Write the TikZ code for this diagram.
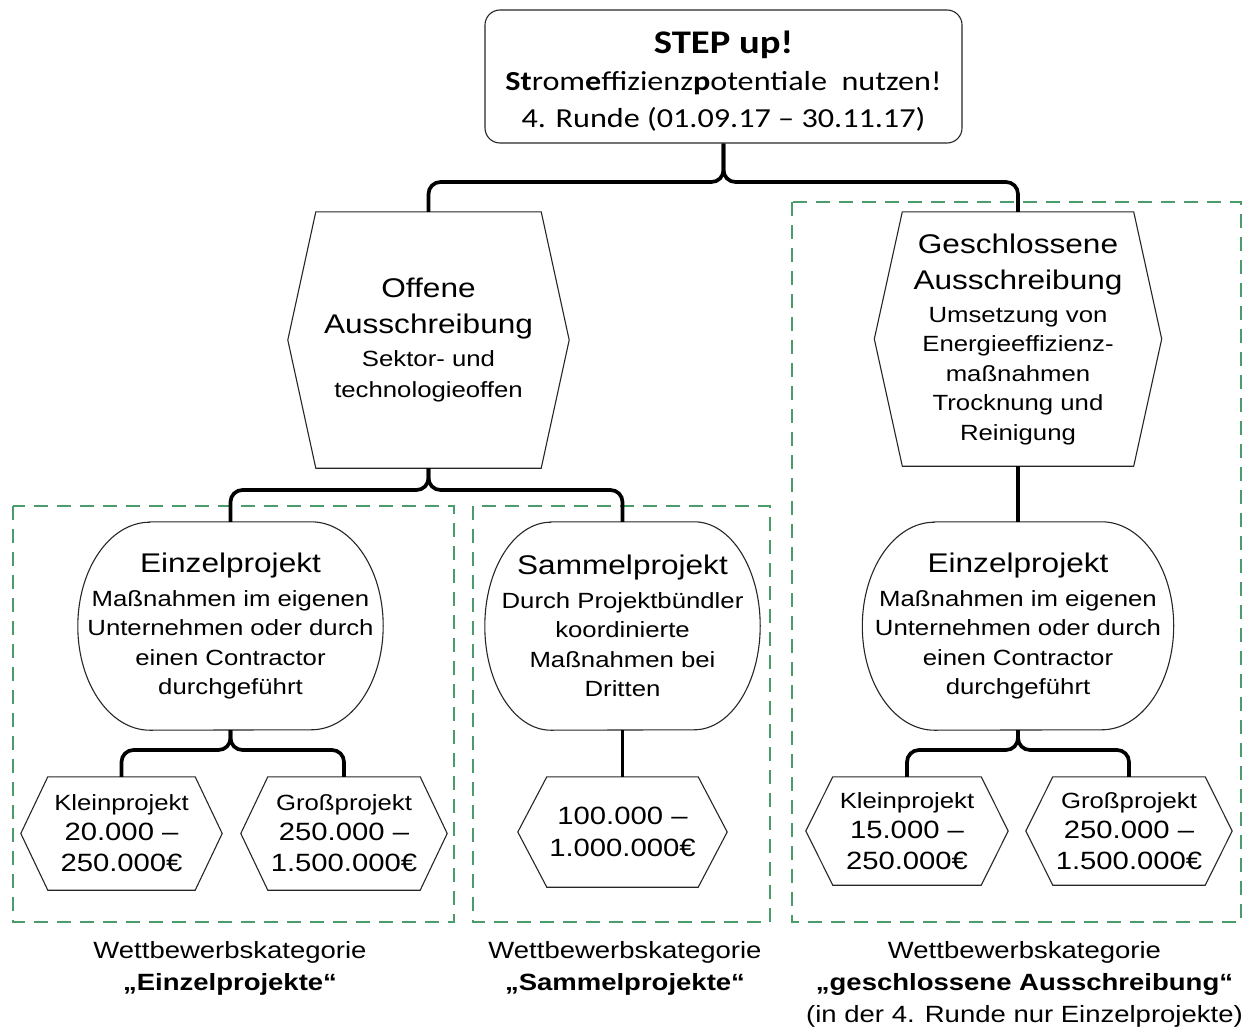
\documentclass[tikz,border=0pt]{standalone}
\usepackage{fontspec}
\setmainfont{Liberation Sans}[FakeStretch=1.17]
\newfontfamily\calibri{Carlito}[FakeStretch=1.17]

\definecolor{katgreen}{RGB}{74,156,106}
\newcommand{\headtxt}{\fontsize{27}{36}\selectfont}
\newcommand{\subtxt}{\fontsize{22}{29.5}\selectfont}
\newcommand{\sumtxt}{\fontsize{25}{31}\selectfont}
\newcommand{\hexframe}[2]{%
  \draw[outline] ([xshift=#2]#1.north west) -- ([xshift=-#2]#1.north east) -- (#1.east)
    -- ([xshift=-#2]#1.south east) -- ([xshift=#2]#1.south west) -- (#1.west) -- cycle;}
\newcommand{\capframe}[2]{%
  \draw[outline] ([xshift=#2]#1.north west) -- ([xshift=-#2]#1.north east)
    arc[start angle=90, end angle=-90, x radius=#2, y radius=104pt]
    -- ([xshift=#2]#1.south west)
    arc[start angle=270, end angle=90, x radius=#2, y radius=104pt] -- cycle;}

\tikzset{
  conn/.style={line width=3.7pt, rounded corners=12pt},
  outline/.style={draw=black!85, line width=1.1pt},
  hexnode/.style={align=center, inner sep=0pt, font=\subtxt},
  sumnode/.style={align=center, inner sep=0pt, font=\sumtxt},
  roundnode/.style={align=center, inner sep=0pt, font=\subtxt, minimum height=208pt},
  katbox/.style={draw=katgreen, line width=2pt, dash pattern=on 14pt off 9pt},
  katlabel/.style={align=center, font=\fontsize{23.5}{32}\selectfont},
}

\begin{document}
\begin{tikzpicture}[x=1pt, y=-1pt]
\useasboundingbox (0,0) rectangle (1258,1030);

\draw[katbox] (13,506) rectangle (454,922);
\draw[katbox] (473,506) rectangle (770,922);
\draw[katbox] (792,202) rectangle (1241,922);

\node[outline, rounded corners=15pt, minimum width=477pt, minimum height=133pt,
      align=center, inner sep=0pt, font=\calibri\fontsize{27.5}{37}\selectfont] (step) at (723.5,76.5)
     {\rule{0pt}{31pt}\bfseries\fontsize{33}{38}\selectfont STEP up!\\[0pt]
      \textbf{St}rom\textbf{e}ffizienz\textbf{p}otentiale\ \ nutzen!\\
      4. Runde (01.09.17 – 30.11.17)};

\node[hexnode, minimum width=281pt, minimum height=256pt] (offen) at (428.5,340)
     {\headtxt Offene\\[6.5pt]\headtxt Ausschreibung\\[3.5pt]Sektor- und\\[1.5pt]technologieoffen};
\hexframe{offen}{28pt}
\node[hexnode, minimum width=287pt, minimum height=254pt] (geschl) at (1018,339)
     {\headtxt Geschlossene\\[6.5pt]\headtxt Ausschreibung\\[3.5pt]Umsetzung von\\Energieeffizienz-\\
      maßnahmen\\Trocknung und\\Reinigung};
\hexframe{geschl}{28pt}

\node[roundnode, minimum width=305pt] (einzelL) at (230.5,626)
     {\headtxt Einzelprojekt\\[4.5pt]Maßnahmen im eigenen\\Unternehmen oder durch\\
      einen Contractor\\durchgeführt};
\capframe{einzelL}{72pt}
\node[roundnode, minimum width=275pt] (sammel) at (622.5,626)
     {\headtxt Sammelprojekt\\[4.5pt]Durch Projektbündler\\koordinierte\\
      Maßnahmen bei\\Dritten};
\capframe{sammel}{66pt}
\node[roundnode, minimum width=311pt] (einzelR) at (1018,626)
     {\headtxt Einzelprojekt\\[4.5pt]Maßnahmen im eigenen\\Unternehmen oder durch\\
      einen Contractor\\durchgeführt};
\capframe{einzelR}{72pt}

\node[sumnode, minimum width=201pt, minimum height=113pt] (kleinL) at (121.5,833.5)
     {\subtxt Kleinprojekt\\[-1pt]20.000 –\\250.000€};
\hexframe{kleinL}{27pt}
\node[sumnode, minimum width=206pt, minimum height=113pt] (grossL) at (344,833.5)
     {\subtxt Großprojekt\\[-1pt]250.000 –\\1.500.000€};
\hexframe{grossL}{27pt}
\node[sumnode, minimum width=209pt, minimum height=110pt] (sammelsum) at (622.5,832)
     {100.000 –\\[1pt]1.000.000€};
\hexframe{sammelsum}{29pt}
\node[sumnode, minimum width=202pt, minimum height=108pt] (kleinR) at (907,831)
     {\subtxt Kleinprojekt\\[-1pt]15.000 –\\250.000€};
\hexframe{kleinR}{27pt}
\node[sumnode, minimum width=206pt, minimum height=108pt] (grossR) at (1129,831)
     {\subtxt Großprojekt\\[-1pt]250.000 –\\1.500.000€};
\hexframe{grossR}{27pt}

\coordinate (j1) at (723.5,182);
\coordinate (j2) at (428.5,490);
\coordinate (j3) at (230.5,750);
\coordinate (j4) at (1018,750);
\draw[conn] (offen.north) |- (j1) -- (step.south);
\draw[conn] (geschl.north) |- (j1) -- (step.south);
\draw[conn] (einzelL.north) |- (j2) -- (offen.south);
\draw[conn] (sammel.north) |- (j2) -- (offen.south);
\draw[conn] (geschl.south) -- (einzelR.north);
\draw[conn] (kleinL.north) |- (j3) -- (einzelL.south);
\draw[conn] (grossL.north) |- (j3) -- (einzelL.south);
\draw[conn] (sammel.south) -- (sammelsum.north);
\draw[conn] (kleinR.north) |- (j4) -- (einzelR.south);
\draw[conn] (grossR.north) |- (j4) -- (einzelR.south);

\node[katlabel] (labE) at (230,968.5)
     {Wettbewerbskategorie\\\textbf{„Einzelprojekte“}};
\node[katlabel] (labS) at (625,968.5)
     {Wettbewerbskategorie\\\textbf{„Sammelprojekte“}};
\node[katlabel] (labG) at (1024.5,984)
     {Wettbewerbskategorie\\\textbf{„geschlossene Ausschreibung“}\\(in der 4. Runde nur Einzelprojekte)};
\end{tikzpicture}
\end{document}
